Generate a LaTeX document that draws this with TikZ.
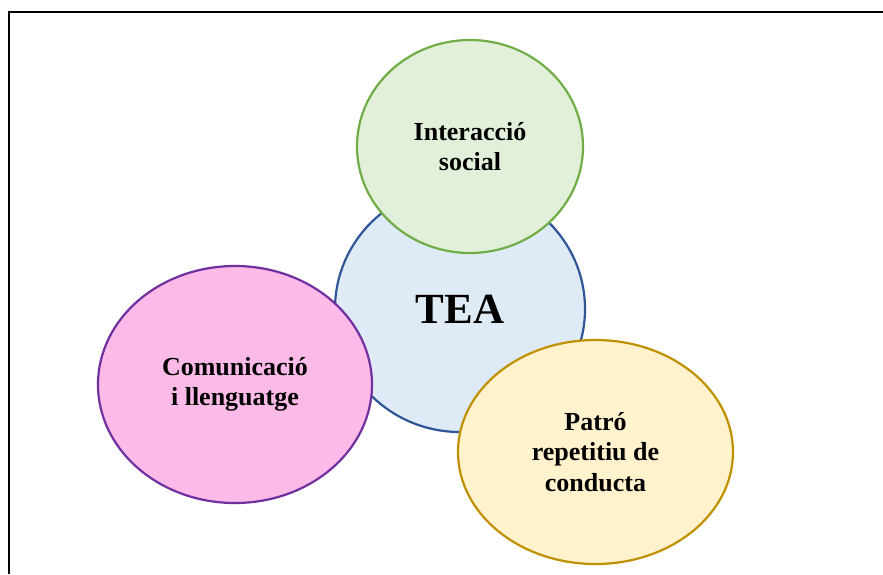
\documentclass[tikz,border=0pt]{standalone}
\usepackage{fontspec}
\setmainfont{Liberation Serif}
\usetikzlibrary{shapes.geometric}
\definecolor{teafill}{HTML}{DEEBF7}
\definecolor{teaedge}{HTML}{2F5597}
\definecolor{socfill}{HTML}{E2F0D9}
\definecolor{socedge}{HTML}{70AD47}
\definecolor{comfill}{HTML}{FBBAE8}
\definecolor{comedge}{HTML}{7030A0}
\definecolor{patfill}{HTML}{FFF2CC}
\definecolor{patedge}{HTML}{BF9000}

\begin{document}
\begin{tikzpicture}[x=1pt, y=-1pt, area/.style={ellipse, line width=2.2pt, inner sep=0pt, align=center, font=\fontsize{26}{30.5}\selectfont\bfseries}]
	\useasboundingbox (0,0) rectangle (883,574);
	\draw[line width=1.8pt] (9,574) -- (9,12) -- (883,12);
	\node[area, draw=teaedge, fill=teafill, minimum width=250pt, minimum height=246pt, font=\fontsize{43}{50}\selectfont\bfseries] (tea) at (460,309) {TEA};
	\node[area, draw=socedge, fill=socfill, minimum width=226pt, minimum height=213pt] (social) at (470,146.5) {Interacció\\social};
	\node[area, draw=comedge, fill=comfill, minimum width=274pt, minimum height=237pt] (comunicacio) at (235,384.5) {Comunicació\\i llenguatge};
	\node[area, draw=patedge, fill=patfill, minimum width=275pt, minimum height=224pt] (patro) at (595.5,452) {Patró\\repetitiu de\\conducta};
\end{tikzpicture}
\end{document}
